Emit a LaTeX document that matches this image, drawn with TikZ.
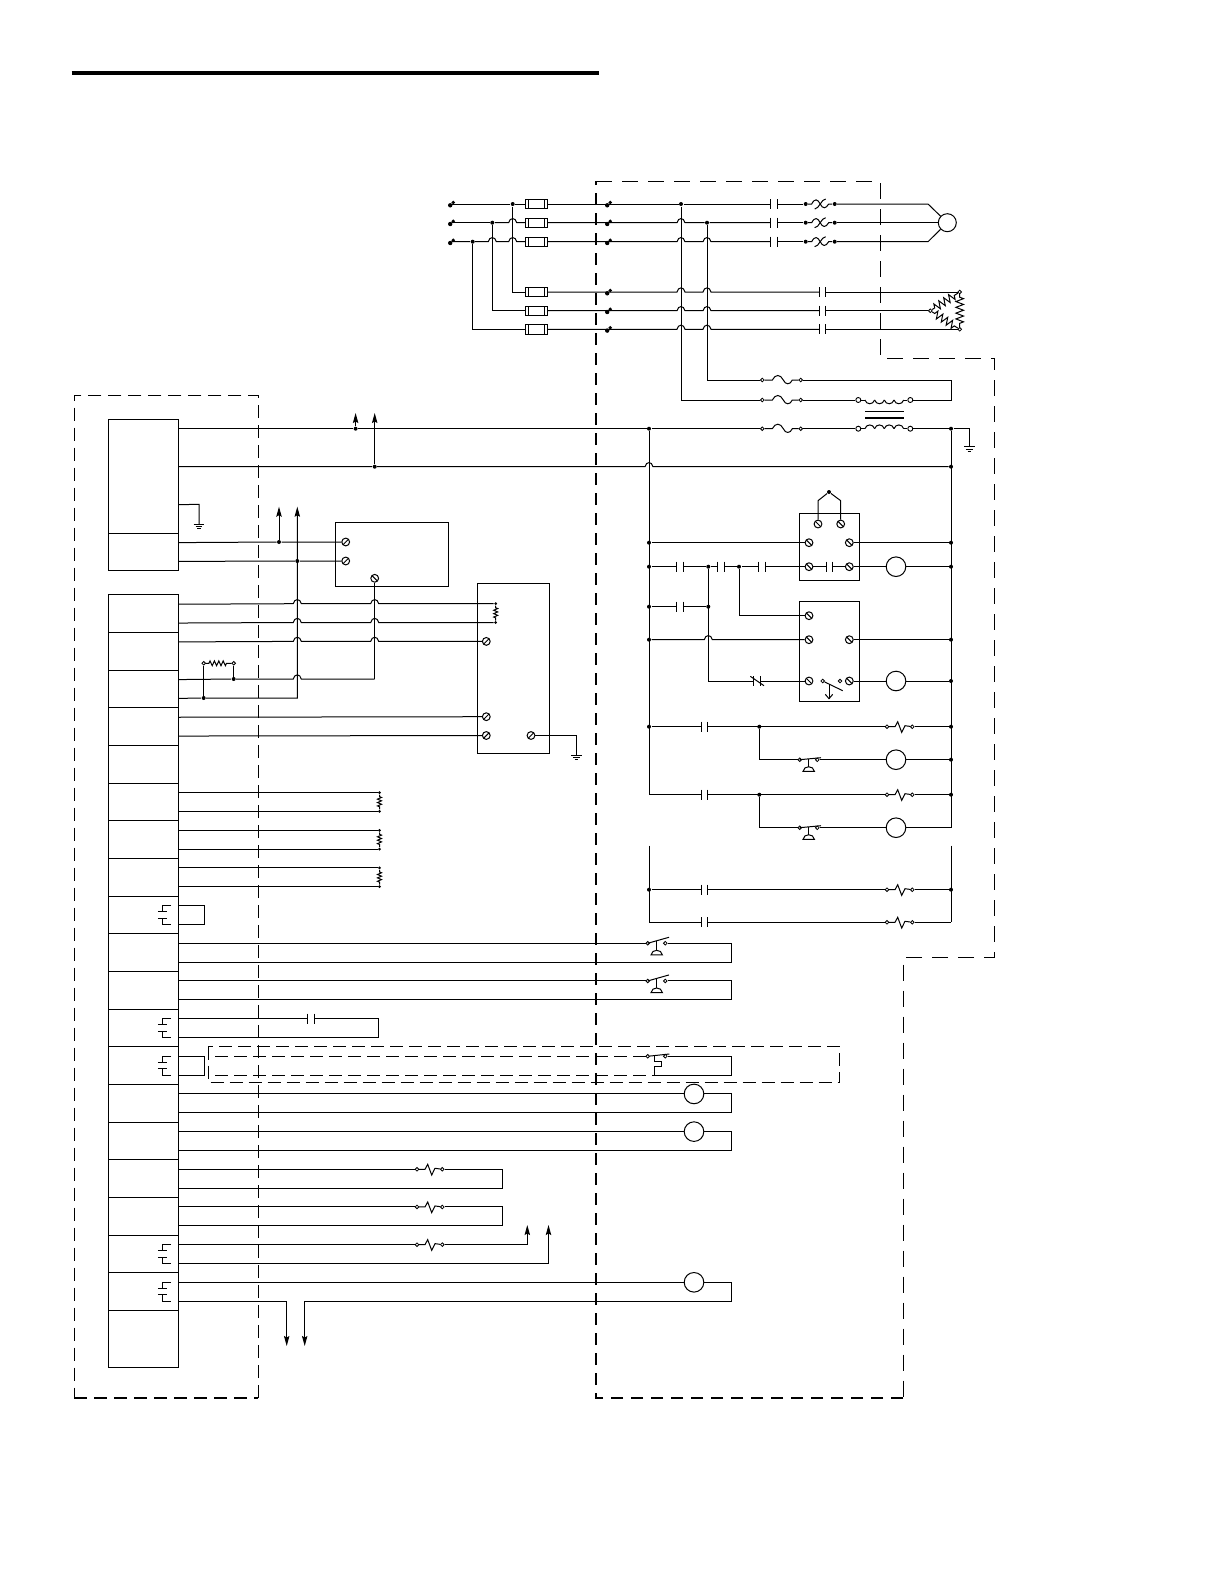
\documentclass[tikz,border=0pt]{standalone}
\usetikzlibrary{positioning}
\usetikzlibrary{matrix,calc,arrows.meta,decorations.pathmorphing}

\newcommand{\hp}[2]{-- (#1-4,#2) .. controls (#1-3,#2-5.5) and (#1+3,#2-5.5) .. (#1+4,#2)}

\tikzset{
	dot/.style={circle,fill=black,inner sep=0pt,minimum size=4pt},
	hd/.style={circle,draw,fill=white,line width=.8pt,inner sep=0pt,minimum size=3.6pt},
	hdb/.style={circle,draw,fill=white,line width=.9pt,inner sep=0pt,minimum size=5pt},
	term/.style={circle,draw,fill=white,inner sep=0pt,minimum size=7.8pt,
		path picture={\draw (path picture bounding box.south west) -- (path picture bounding box.north east);}},
	termb/.style={circle,draw,fill=white,inner sep=0pt,minimum size=7.8pt,
		path picture={\draw (path picture bounding box.north west) -- (path picture bounding box.south east);}},
	lamp/.style={circle,draw,fill=white,inner sep=0pt,minimum size=19.6pt},
	encl/.style={draw,inner sep=0pt,outer sep=0pt},
	arw/.style={-{Stealth[length=10pt,width=5.4pt,inset=1.5pt]}},
	rzig/.style={decorate,decoration={zigzag,segment length=5.8pt,amplitude=3.8pt,pre length=3pt,post length=3pt}},
	rzigs/.style={decorate,decoration={zigzag,segment length=3.4pt,amplitude=2pt,pre length=2pt,post length=2pt}},
	dashA/.style={dash pattern=on 13pt off 7pt},
	dashB/.style={line width=2pt,dash pattern=on 12pt off 8pt},
	dashC/.style={dash pattern=on 13pt off 6pt,line width=.9pt},
	pics/capc/.style={code={
		\draw (-3.3,-5) -- (-3.3,5);
		\draw (3.3,-5) -- (3.3,5);
		\coordinate (-a) at (-3.3,0);
		\coordinate (-b) at (3.3,0);
	}},
	pics/fusebox/.style={code={
		\draw (-11.3,-4.7) rectangle (11.3,4.7);
		\draw (-8,-4.7) -- (-8,4.7);
		\draw (8,-4.7) -- (8,4.7);
		\coordinate (-a) at (-11.3,0);
		\coordinate (-b) at (11.3,0);
	}},
	pics/lug/.style={code={
		\fill (-1.8,1.3) circle (2.2pt);
		\fill (1.2,-1.5) circle (1.9pt);
		\coordinate (-c) at (0,0);
	}},
	pics/ovl/.style={code={
		\node[dot] (-l) at (0,0) {};
		\node[dot] (-r) at (29,0) {};
		\draw (-l) -- (6,0) .. controls (9,-6) and (12,-5) .. (14.5,0) .. controls (17,5) and (20,5) .. (23,0) -- (-r);
		\draw (9,5) .. controls (11,4.5) and (13,3) .. (14.5,0) .. controls (16,-3) and (18,-4.5) .. (20,-5);
	}},
	pics/fuses/.style={code={
		\node[hd] (-l) at (0,0) {};
		\node[hd] (-r) at (38.4,0) {};
		\draw (-l) -- (10,0) .. controls (13,-6) and (18,-6) .. (21,0) .. controls (23,5) and (28,5) .. (30,0) -- (-r);
	}},
	pics/coil/.style={code={
		\node[hdb] (-l) at (0,0) {};
		\node[hdb] (-r) at (52,0) {};
		\draw (-l) -- (6.6,0);
		\draw (45.4,0) -- (-r);
		\foreach \i in {0,...,3}
			\draw ({6.6+\i*9.7},0) .. controls +(1.5,#1) and +(-1.5,#1) .. ({16.3+\i*9.7},0);
	}},
	pics/ovr/.style={code={
		\node[hd] (-l) at (0,0) {};
		\node[hd] (-r) at (25.3,0) {};
		\draw (-l) -- (8,0) -- (10.7,-5) -- (14.7,5.7) -- (18,-1) -- (-r);
	}},
	pics/pbtn/.style={code={
		\node[hd] (-l) at (0,0) {};
		\node[hd] (-r) at (17.6,0) {};
		\draw (0,0) -- (21.3,-#1);
		\draw (8.8,-#1*0.4) -- (8.8,7);
		\draw (3.3,11.7) .. controls (4,5.5) and (14,5.5) .. (14.7,11.7) -- cycle;
	}},
	pics/rly/.style={code={
		\draw (-7.6,-9.4) -- (-16.6,-9.4) -- (-16.6,-3.1);
		\draw (-21,-3.1) -- (-12.3,-3.1);
		\draw (-21,3.1) -- (-12.3,3.1);
		\draw (-16.6,3.1) -- (-16.6,9.4) -- (-7.6,9.4);
	}},
	pics/gnd/.style={code={
		\draw (-5.3,0) -- (5.3,0);
		\draw (-3.4,2.3) -- (3.4,2.3);
		\draw (-1.7,4.6) -- (1.7,4.6);
	}},
}

\begin{document}
\begin{tikzpicture}[x=1pt,y=-1pt,line width=1pt]
	\useasboundingbox (0,0) rectangle (1224,1584);

	\draw[line width=4pt] (71.7,72.7) -- (599,72.7);

	% enclosures
	\draw[dashA] (258.3,1398) -- (258.3,395) -- (74,395) -- (74,1398);
	\draw[dashA,line width=1.5pt] (74,1398) -- (258.3,1398);
	\draw[dash pattern=on 16pt off 10pt] (596,181) -- (880,181) -- (880,358) -- (994.7,358) -- (994.7,957.6) -- (903,957.6) -- (903,1398);
	\draw[dashB] (903,1398) -- (596,1398) -- (596,181);
	\draw[dashC] (208.3,1046.5) rectangle (839.7,1082.3);

	% terminal strips
	\matrix (plc) [matrix of nodes,anchor=north west,inner sep=0pt,outer sep=0pt,row sep=-\pgflinewidth,nodes in empty cells,nodes={draw,
		minimum width=70pt,
		minimum height=37.6pt,
		anchor=center,
		inner sep=0pt,
		outer sep=0pt
	}] at (108.3,419)
	{
		|[minimum height=113.7pt]| \\
		\\
	};

	\matrix (strip) [below=23pt of plc,matrix of nodes,inner sep=0pt,outer sep=0pt,row sep=-\pgflinewidth,nodes in empty cells,nodes={draw,
		minimum width=70pt,
		minimum height=37.67pt,
		anchor=center,
		inner sep=0pt,
		outer sep=0pt
	}]
	{
		\\ \\ \\ \\ \\
		\\ \\ \\ \\ \\
		\\ \\ \\ \\ \\
		\\ \\ \\ \\
		|[minimum height=57.3pt]| \\
	};

	\foreach \k in {1,...,19} {
		\coordinate (w\k a) at ($(strip-\k-1.east)+(0,-9.4)$);
		\coordinate (w\k b) at ($(strip-\k-1.east)+(0,9.4)$);
	}
	\coordinate (jw) at (204.7,0);
	\coordinate (rt) at (731,0);
	\coordinate (mh) at (502,0);

	\foreach \k in {9,12,13,18,19}
		\pic at (strip-\k-1.east) {rly};

	% supply
	\foreach \n/\y in {1/204,2/222.7,3/241.7,4/292,5/310.7,6/329.3}
		\pic (t\n) at (609,\y) {lug};
	\foreach \n/\y in {1/204,2/222.7,3/241.7}
		\pic (f\n) at (452,\y) {lug};
	\foreach \n/\y in {1/204,2/222.7,3/241.7,4/292,5/310.7,6/329.3}
		\pic (fb\n) at (536.3,\y) {fusebox};
	\foreach \n/\y in {1/204,2/222.7,3/241.7} {
		\pic (m\n) at (774,\y) {capc};
		\pic (o\n) at (805.7,\y) {ovl};
	}
	\foreach \n/\y in {4/292,5/310.7,6/329.3}
		\pic (m\n) at (822.4,\y) {capc};

	\node[dot] (d1) at (512.7,204) {};
	\node[dot] (d2) at (492.3,222.7) {};
	\node[dot] (d3) at (472.7,241.7) {};
	\node[dot] (d4) at (681,204) {};
	\node[dot] (d5) at (707,222.7) {};
	\node[lamp,minimum size=18pt] (mot) at (947.3,222.7) {};
	\node[hd] (hta) at (959.7,292) {};
	\node[hd] (htb) at (930.3,310.7) {};
	\node[hd] (htc) at (959.7,329.3) {};

	\draw (f1-c) -- (d1) -- (fb1-a);
	\draw[line width=1.4pt] (f2-c) -- (d2);
	\draw (d2) \hp{512.7}{222.7} -- (fb2-a);
	\draw (f3-c) -- (d3) \hp{492.3}{241.7} \hp{512.7}{241.7} -- (fb3-a);
	\draw (fb1-b) -- (d4) -- (m1-a);
	\draw (fb2-b) \hp{681}{222.7} -- (d5) -- (m2-a);
	\draw (fb3-b) \hp{681}{241.7} \hp{707}{241.7} -- (m3-a);
	\foreach \n in {1,2,3}
		\draw (m\n-b) -- (o\n-l);
	\draw (o1-r) -- (928,204) -- (mot);
	\draw (o2-r) -- (mot);
	\draw (o3-r) -- (928,241.7) -- (mot);

	\draw (d1) |- (fb4-a);
	\draw (d2) |- (fb5-a);
	\draw[line width=1.4pt] (d3) |- (fb6-a);
	\draw (fb4-b) \hp{681}{292} \hp{707}{292} -- (m4-a);
	\draw (fb5-b) \hp{681}{310.7} \hp{707}{310.7} -- (m5-a);
	\draw (fb6-b) \hp{681}{329.3} \hp{707}{329.3} -- (m6-a);
	\draw (m4-b) -- (hta);
	\draw (m5-b) -- (htb);
	\draw (m6-b) -- (htc);
	\draw[rzig] (htb) -- (hta);
	\draw[rzig] (hta) -- (htc);
	\draw[rzig] (htb) -- (htc);

	% transformer
	\pic (fs1) at (762.3,380) {fuses};
	\pic (fs2) at (762.3,400) {fuses};
	\pic (fs3) at (762.3,428.7) {fuses};
	\pic (cp) at (858.3,400) {coil=5};
	\pic (cs) at (858.3,428.7) {coil=-5};
	\draw (865,411.3) -- (903.7,411.3);
	\draw[line width=1.6pt] (865,417.7) -- (903.7,417.7);

	\draw (d5) |- (fs1-l);
	\draw (d4) |- (fs2-l);
	\draw (fs1-r) -- (951,380) -- (951,400) -- (cp-r);
	\draw (fs2-r) -- (cp-l);

	% rails
	\node[dot] (a1) at (355.6,428.7) {};
	\node[dot] (a2) at (374.7,466.7) {};
	\foreach \n/\y in {1/428.7,2/542.7,3/566.7,4/606.7,5/639.7,6/726.7,7/889.7}
		\node[dot] (L\n) at (649,\y) {};
	\foreach \n/\y in {1/428.7,2/466.7,3/542.7,4/566.7,5/639.7,6/681,7/726.7,8/759.7,9/794.7,10/889.7}
		\node[dot] (R\n) at (951,\y) {};
	\coordinate (p1) at (178.3,428.7);
	\coordinate (p2) at (178.3,466.7);
	\draw (p1) -- (a1) -- (L1) -- (fs3-l);
	\draw (fs3-r) -- (cs-l);
	\draw (cs-r) -- (R1) -- (969.3,428.7) -- (969.3,446.7);
	\pic at (969.3,446.7) {gnd};
	\draw (p2) -- (a2) \hp{649}{466.7} -- (R2);
	\draw[arw] (a1) -- (355.6,413);
	\draw[arw] (a2) -- (374.7,413);
	\draw (L1) -- (649,794.7);
	\draw (R1) -- (951,827.7);
	\draw (649,845.7) -- (649,922.3);
	\draw (951,845.7) -- (951,922.3);

	% relay boxes
	\node[encl,minimum width=60pt,minimum height=66.6pt] (rl1) at (829.3,547) {};
	\node[encl,minimum width=60pt,minimum height=100pt] (rl2) at (829.3,651.7) {};
	\node[termb] (q1) at (818,524) {};
	\node[termb] (q2) at (840.7,524) {};
	\node[termb] (q3) at (809,542.7) {};
	\node[termb] (q4) at (849.3,542.7) {};
	\node[termb] (q5) at (809,566.7) {};
	\node[termb] (q6) at (849.3,566.7) {};
	\node[termb] (q7) at (809,615.7) {};
	\node[termb] (q8) at (809,639.7) {};
	\node[termb] (q9) at (849.3,639.7) {};
	\node[termb] (q10) at (809,681) {};
	\node[termb] (q11) at (849.3,681) {};
	\node[dot] (j0) at (829,492) {};
	\draw (q1) -- (818,500.7) -- (j0) -- (840.7,500.7) -- (q2);
	\draw (L2) -- (q3);
	\draw (q4) -- (R3);

	\node[dot] (j1) at (708.3,566.7) {};
	\node[dot] (j2) at (739,566.7) {};
	\node[dot] (j3) at (708.3,606.7) {};
	\pic (k1) at (680,566.7) {capc};
	\pic (k2) at (720.7,566.7) {capc};
	\pic (k3) at (762,566.7) {capc};
	\pic (k4) at (829.4,566.7) {capc};
	\pic (k5) at (680,606.7) {capc};
	\node[lamp] (l1) at (896,566.7) {};
	\node[lamp] (l2) at (896,681) {};
	\draw (L3) -- (k1-a);
	\draw (k1-b) -- (j1) -- (k2-a);
	\draw (k2-b) -- (j2) -- (k3-a);
	\draw (k3-b) -- (q5) -- (k4-a);
	\draw (k4-b) -- (q6) -- (l1) -- (R4);
	\draw (L4) -- (k5-a);
	\draw (k5-b) -- (j3);
	\draw (j1) -- (708.3,681) -- (753,681);
	\draw (j2) |- (q7);
	\draw (L5) \hp{708.3}{639.7} -- (q8);
	\draw (q9) -- (R5);
	% normally closed contact and float switch
	\draw (753.3,676) -- (753.3,686);
	\draw (760,676) -- (760,686);
	\draw (750.3,676.3) -- (764,685.7);
	\draw (760,681) -- (q10);
	\draw (q11) -- (l2) -- (R6);
	\node[hd] (s1) at (822.7,681) {};
	\node[hd] (s2) at (840,681) {};
	\draw (s1) -- (842.7,690.7);
	\draw (829,684) -- (829,698.7);
	\draw (825.3,694.3) -- (829,698.7) -- (832.7,694.3);

	% lower ladder
	\foreach \n/\y in {1/726.7,2/794.7,3/889.7,4/922.3} {
		\pic (c\n) at (704.6,\y) {capc};
		\pic (v\n) at (887,\y) {ovr};
		\draw (c\n-b) -- (v\n-l);
	}
	\node[dot] (j4) at (759.3,726.7) {};
	\node[dot] (j5) at (759.3,794.7) {};
	\draw[line width=1.5pt] (L6) -- (c1-a);
	\draw (v1-r) -- (R7);
	\draw (649,794.7) -- (c2-a);
	\draw (v2-r) -- (R9);
	\draw (L7) -- (c3-a);
	\draw (v3-r) -- (R10);
	\draw (649,922.3) -- (c4-a);
	\draw (v4-r) -- (951,922.3);
	\pic (b1) at (799.7,759.7) {pbtn=2};
	\pic (b2) at (799.7,827.7) {pbtn=2};
	\node[lamp] (l3) at (896,759.7) {};
	\node[lamp] (l4) at (896,827.7) {};
	\draw (j4) |- (b1-l);
	\draw (b1-r) -- (l3) -- (R8);
	\draw (j5) |- (b2-l);
	\draw (b2-r) -- (l4) -- (951,827.7);

	% boxes on the left
	\node[encl,minimum width=113.4pt,minimum height=64.7pt] (bx2) at (392,554.4) {};
	\node[encl,minimum width=72pt,minimum height=169.6pt] (bx3) at (513.3,668.5) {};
	\node[term] (u1) at (345.7,542) {};
	\node[term] (u2) at (345.7,561) {};
	\node[termb] (u3) at (374.7,578.3) {};
	\node[term] (u4) at (486.3,641.4) {};
	\node[term] (u5) at (486.3,716.7) {};
	\node[term] (u6) at (486.3,735.5) {};
	\node[term] (u7) at (531,735.5) {};
	\node[dot,minimum size=3pt] (x1) at (495.7,603.7) {};
	\node[dot,minimum size=3pt] (x2) at (495.7,622.5) {};
	\node[dot] (x3) at (279,542) {};
	\node[dot] (x4) at (297.3,561) {};
	\node[dot] (x5) at (203.7,698) {};
	\node[dot] (x6) at (233.7,679) {};
	\node[hd] (x7) at (203.7,663.3) {};
	\node[hd] (x8) at (233.7,663.3) {};
	\coordinate (g1) at ($(plc-1-1.south east)+(0,-28.5)$);
	\coordinate (w0a) at ($(plc-2-1.east)+(0,-9.4)$);
	\coordinate (w0b) at ($(plc-2-1.east)+(0,9.4)$);

	\draw (g1) -- (199,504.3) -- (199,524.3);
	\pic at (199,524.3) {gnd};
	\draw (w0a) -- (x3) -- (u1);
	\draw (w0b) -- (x4) -- (u2);
	\draw[arw] (x3) -- (279,506.7);
	\draw[arw] (w3b) -- (x5) -- (297.3,698) -- (297.3,506.7);
	\draw (u3) -- (374.7,679);
	\draw (w1a) \hp{297.3}{603.7} \hp{374.7}{603.7} -- (x1);
	\draw (w1b) \hp{297.3}{622.5} \hp{374.7}{622.5} -- (x2);
	\draw[rzigs] (x1) -- (x2);
	\draw (w2a) \hp{297.3}{641.4} \hp{374.7}{641.4} -- (u4);
	\draw (w3a) -- (x6) \hp{297.3}{679} -- (374.7,679);
	\draw[line width=1.4pt] (x5) -- (x7);
	\draw (x6) -- (x8);
	\draw[rzig,decoration={amplitude=2.4pt,segment length=4.4pt}] (x7) -- (x8);
	\draw (w4a) -- (u5);
	\draw (w4b) -- (u6);
	\draw (u7) -- (576.3,735.5) -- (576.3,755);
	\pic at (576.3,755) {gnd};

	% sensor pairs
	\foreach \k in {6,7,8} {
		\node[dot,minimum size=3pt] (ra\k) at (w\k a -| 379.5,0) {};
		\node[dot,minimum size=3pt] (rb\k) at (w\k b -| 379.5,0) {};
		\draw (w\k a) -- (ra\k);
		\draw (w\k b) -- (rb\k);
		\draw[rzigs] (ra\k) -- (rb\k);
	}
	\draw (w9a) -| (w9b -| jw) -- (w9b);
	\draw (w13a) -| (w13b -| jw) -- (w13b);

	% field devices
	\pic (e1) at (w10a -| 647.7,0) {pbtn=6};
	\pic (e2) at (w11a -| 647.7,0) {pbtn=6};
	\draw (w10a) -- (e1-l);
	\draw (e1-r) -| (w10b -| rt) -- (w10b);
	\draw (w11a) -- (e2-l);
	\draw (e2-r) -| (w11b -| rt) -- (w11b);

	\pic (z1) at (w12a -| 311,0) {capc};
	\draw (w12a) -- (z1-a);
	\draw (z1-b) -| (w12b -| 378.3,0) -- (w12b);

	% temperature switch
	\node[hd] (h1) at (w13a -| 647.7,0) {};
	\node[hd] (h2) at (w13a -| 665.3,0) {};
	\coordinate (h3) at (w13b -| 654.3,0);
	\draw (h1) -- (669.3,1054);
	\draw (654.3,1055) -- (654.3,1061) -- (661.7,1061) -- (661.7,1066.7) -- (654.3,1066.7) -- (h3);
	\draw (h2) -| (w13b -| rt) -- (h3);
	\draw[dashC] (w13a -| 215,0) -- (h1);
	\draw[dashC] (w13b -| 215,0) -- (h3);

	% lamps in the field
	\node[lamp] (l5) at (w14a -| 694,0) {};
	\node[lamp] (l6) at (w15a -| 694,0) {};
	\node[lamp] (l7) at (w19a -| 694,0) {};
	\draw (w14a) -- (l5) -| (w14b -| rt) -- (w14b);
	\draw (w15a) -- (l6) -| (w15b -| rt) -- (w15b);
	\draw[arw] (w19a) -- (l7) -| (w19b -| rt) -- (w19b -| 304.7,0) -- (304.7,1346);
	\draw[arw] (w19b) -- (w19b -| 286.7,0) -- (286.7,1346);

	% heaters
	\pic (y1) at (w16a -| 417,0) {ovr};
	\pic (y2) at (w17a -| 417,0) {ovr};
	\pic (y3) at (w18a -| 417,0) {ovr};
	\draw (w16a) -- (y1-l);
	\draw (y1-r) -| (w16b -| mh) -- (w16b);
	\draw (w17a) -- (y2-l);
	\draw (y2-r) -| (w17b -| mh) -- (w17b);
	\draw (w18a) -- (y3-l);
	\draw[arw] (y3-r) -- (y3-r -| 527.3,0) -- (527.3,1225);
	\draw[arw] (w18b) -- (w18b -| 548.5,0) -- (548.5,1225);
\end{tikzpicture}
\end{document}
